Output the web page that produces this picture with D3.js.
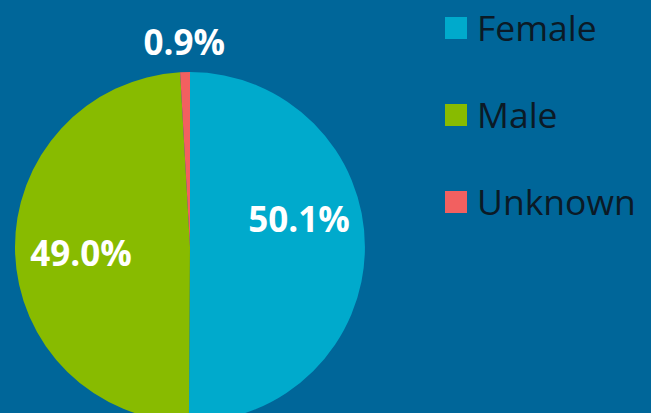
<!DOCTYPE html>
<html>
<head>
<meta charset="utf-8">
<script src="https://cdn.jsdelivr.net/npm/d3@7"></script>
<style>
  html, body { margin: 0; padding: 0; background: #006699; }
  svg { display: block; font-family: "Open Sans", sans-serif; }
</style>
</head>
<body>
<svg width="651" height="413"></svg>
<script>
var categories = ["Female", "Male", "Unknown"];
var shares = [50.1, 49.0, 0.9];
var labels = ["50.1%", "49.0%", "0.9%"];

var colors = ["#00aacc", "#88bb00", "#f26060"];

var svg = d3.select("svg"),
    width = +svg.attr("width"),
    height = +svg.attr("height");

svg.append("rect")
    .attr("width", width)
    .attr("height", height)
    .attr("fill", "#006699");

var cx = 190, cy = 247, radius = 175;

var data = categories.map(function(c, i) {
  return {name: c, value: shares[i], label: labels[i]};
});

var pie = d3.pie()
    .sort(null)
    .value(function(d) { return d.value; });

var arcs = pie(data);

var arc = d3.arc()
    .innerRadius(0)
    .outerRadius(radius);

var color = d3.scaleOrdinal()
    .domain(categories)
    .range(colors);

var g = svg.append("g")
    .attr("transform", "translate(" + cx + "," + cy + ")");

g.selectAll("path")
  .data(arcs)
  .enter().append("path")
    .attr("d", arc)
    .attr("fill", function(d) { return color(d.data.name); });

// inside labels sit around 0.62R, small slices go outside
var inner = d3.arc().innerRadius(109).outerRadius(109);
var outer = d3.arc().innerRadius(205).outerRadius(205);
var nudge = {Female: -28, Male: 4, Unknown: 0};

g.selectAll("text")
  .data(arcs)
  .enter().append("text")
    .attr("transform", function(d) {
      var small = d.endAngle - d.startAngle < 0.2;
      var p = (small ? outer : inner).centroid(d);
      return "translate(" + p[0] + "," + (p[1] + nudge[d.data.name]) + ")";
    })
    .attr("text-anchor", "middle")
    .attr("dy", "0.36em")
    .attr("fill", "#ffffff")
    .attr("font-weight", "bold")
    .attr("font-size", 35)
    .text(function(d) { return d.data.label; });

var y = d3.scalePoint()
    .domain(categories)
    .range([28, 202]);

var legend = svg.append("g")
  .selectAll("g")
  .data(categories)
  .enter().append("g")
    .attr("transform", function(d) { return "translate(445," + y(d) + ")"; });

legend.append("rect")
    .attr("y", -11)
    .attr("width", 22)
    .attr("height", 22)
    .attr("fill", function(d) { return color(d); });

legend.append("text")
    .attr("x", 32)
    .attr("dy", "0.36em")
    .attr("fill", "#0b1a26")
    .attr("font-size", 35.5)
    .text(function(d) { return d; });
</script>
</body>
</html>
